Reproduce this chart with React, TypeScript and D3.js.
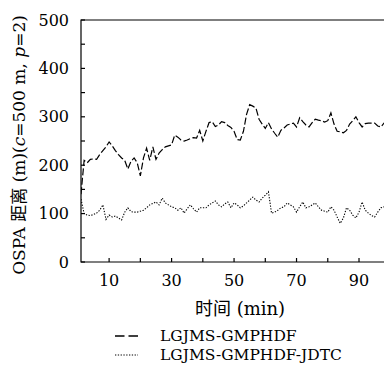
import {useEffect, useRef} from 'react';
import * as d3 from 'd3';

const minutes: number[] = d3.range(1, 101);

const gmphdf: number[] = [
  140, 210, 205, 212, 213, 212, 222, 230, 238, 248,
  240, 230, 222, 215, 210, 192, 208, 215, 205, 178,
  215, 235, 210, 238, 212, 225, 232, 238, 240, 242,
  262, 258, 252, 250, 252, 255, 257, 256, 272, 250,
  270, 288, 290, 280, 283, 290, 288, 282, 278, 270,
  253, 252, 270, 305, 325, 322, 318, 295, 285, 276,
  288, 275, 266, 258, 272, 277, 283, 285, 287, 279,
  298, 290, 283, 279, 288, 295, 293, 292, 289, 292,
  308, 285, 270, 269, 267, 272, 285, 292, 300, 288,
  279, 286, 287, 287, 287, 281, 279, 287, 286, 285,
];

const gmphdfJdtc: number[] = [
  130, 100, 97, 96, 98, 101, 107, 118, 88, 97,
  93, 95, 91, 87, 103, 112, 104, 103, 103, 105,
  107, 112, 118, 121, 124, 118, 132, 122, 118, 114,
  112, 107, 112, 101, 110, 118, 110, 103, 112, 112,
  112, 118, 122, 126, 118, 114, 120, 124, 112, 122,
  118, 112, 116, 122, 128, 134, 128, 124, 132, 138,
  145, 101, 103, 107, 112, 114, 122, 118, 114, 103,
  114, 124, 112, 114, 118, 122, 114, 107, 105, 103,
  114, 107, 93, 80, 91, 112, 107, 97, 91, 103,
  124, 107, 101, 96, 93, 103, 112, 114, 103, 105,
];

const yTickLabels: number[] = [0, 100, 200, 300, 400, 500];
const yMinorTicks: number[] = d3.range(0, 501, 50);
const xTickLabels: number[] = [10, 30, 50, 70, 90];
const xMinorTicks: number[] = d3.range(10, 100, 10);

const seriesNames = ['LGJMS-GMPHDF', 'LGJMS-GMPHDF-JDTC'];

const W = 384;
const H = 367;
const serif = "'DejaVu Serif', 'Liberation Serif', serif";
const cjk = "'Noto Sans CJK SC', sans-serif";

const App = () => {
  const svgRef = useRef<SVGSVGElement | null>(null);

  useEffect(() => {
    if (!svgRef.current) return;
    const svg = d3.select(svgRef.current);
    svg.selectAll('*').remove();

    const margin = {top: 20, left: 81, bottom: 262};

    const x = d3.scaleLinear().domain([1, 98]).range([margin.left, W]);
    const y = d3.scaleLinear().domain([0, 500]).range([margin.bottom, margin.top]);

    svg
      .append('clipPath')
      .attr('id', 'plot-clip')
      .append('rect')
      .attr('x', margin.left)
      .attr('y', margin.top - 2)
      .attr('width', W - margin.left)
      .attr('height', margin.bottom - margin.top + 2);

    const line = (vals: number[]) =>
      d3
        .line<number>()
        .x((_, i) => x(minutes[i]))
        .y((d) => y(d))(vals);

    const plot = svg.append('g').attr('clip-path', 'url(#plot-clip)');

    plot
      .append('path')
      .attr('d', line(gmphdf))
      .attr('fill', 'none')
      .attr('stroke', '#000')
      .attr('stroke-width', 1.2)
      .attr('stroke-dasharray', '7 2.5');

    plot
      .append('path')
      .attr('d', line(gmphdfJdtc))
      .attr('fill', 'none')
      .attr('stroke', '#000')
      .attr('stroke-width', 1.1)
      .attr('stroke-dasharray', '1.3 1.5');

    // frame
    const frame = svg.append('g').attr('stroke', '#000').attr('stroke-width', 1.2);
    frame
      .append('path')
      .attr('fill', 'none')
      .attr('d', `M${W},${margin.top}H${margin.left}V${margin.bottom}H${W}`);

    frame
      .selectAll('line.yt')
      .data(yMinorTicks)
      .join('line')
      .attr('x1', margin.left)
      .attr('x2', margin.left + 4)
      .attr('y1', (d) => y(d))
      .attr('y2', (d) => y(d));

    frame
      .selectAll('line.xt')
      .data(xMinorTicks)
      .join('line')
      .attr('x1', (d) => x(d))
      .attr('x2', (d) => x(d))
      .attr('y1', margin.bottom)
      .attr('y2', margin.bottom - 4);

    svg
      .append('g')
      .selectAll('text')
      .data(yTickLabels)
      .join('text')
      .attr('x', margin.left - 12)
      .attr('y', (d) => y(d))
      .attr('dy', '0.35em')
      .attr('text-anchor', 'end')
      .style('font-family', serif)
      .style('font-size', '16px')
      .text((d) => d);

    svg
      .append('g')
      .selectAll('text')
      .data(xTickLabels)
      .join('text')
      .attr('x', (d) => x(d))
      .attr('y', 286)
      .attr('text-anchor', 'middle')
      .style('font-family', serif)
      .style('font-size', '16px')
      .text((d) => d);

    const xt = svg
      .append('text')
      .attr('x', 240)
      .attr('y', 315)
      .attr('text-anchor', 'middle')
      .style('font-family', serif)
      .style('font-size', '18px');
    xt.append('tspan').style('font-family', cjk).text('时间');
    xt.append('tspan').text(' (min)');

    const yt = svg
      .append('text')
      .attr('transform', 'translate(25,145) rotate(-90)')
      .attr('text-anchor', 'middle')
      .style('font-family', serif)
      .style('font-size', '17px');
    yt.append('tspan').text('OSPA ');
    yt.append('tspan').style('font-family', cjk).text('距离');
    yt.append('tspan').text(' (m)(');
    yt.append('tspan').style('font-style', 'italic').text('c');
    yt.append('tspan').text('=500 m, ');
    yt.append('tspan').style('font-style', 'italic').text('p');
    yt.append('tspan').text('=2)');

    const legend = svg.append('g');
    const dashes = ['9.5 4', '1.3 1.5'];
    seriesNames.forEach((name, i) => {
      const ly = 336 + i * 19;
      legend
        .append('line')
        .attr('x1', 115)
        .attr('x2', 138)
        .attr('y1', ly)
        .attr('y2', ly)
        .attr('stroke', '#000')
        .attr('stroke-width', i === 0 ? 1.6 : 1.1)
        .attr('stroke-dasharray', dashes[i]);
      legend
        .append('text')
        .attr('x', 160)
        .attr('y', ly)
        .attr('dy', '0.35em')
        .style('font-family', serif)
        .style('font-size', '15.5px')
        .text(name);
    });
  }, []);

  return (
    <div style={{position: 'absolute', left: 0, top: 0}}>
      <svg ref={svgRef} width={W} height={H} style={{display: 'block'}}></svg>
    </div>
  );
};

export default App;
